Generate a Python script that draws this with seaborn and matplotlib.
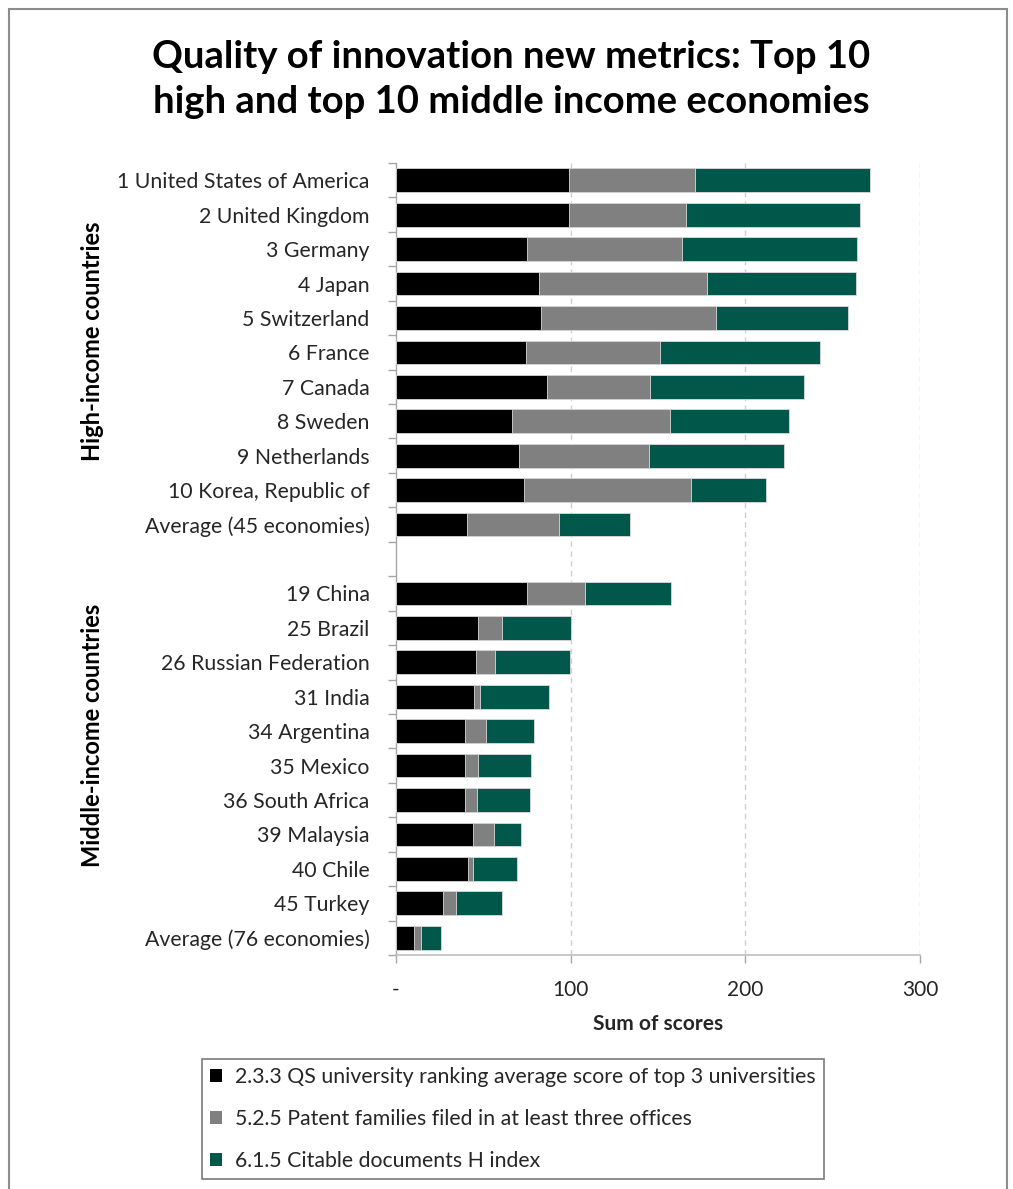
import numpy as np
import pandas as pd
import matplotlib
matplotlib.use("Agg")
import matplotlib.pyplot as plt
from matplotlib.patches import Patch, Rectangle
import seaborn as sns

# ---------------- data ----------------
labels = [
    "1 United States of America", "2 United Kingdom", "3 Germany", "4 Japan",
    "5 Switzerland", "6 France", "7 Canada", "8 Sweden", "9 Netherlands",
    "10 Korea, Republic of", "Average (45 economies)", " ",
    "19 China", "25 Brazil", "26 Russian Federation", "31 India", "34 Argentina",
    "35 Mexico", "36 South Africa", "39 Malaysia", "40 Chile", "45 Turkey",
    "Average (76 economies)",
]
qs_universities = [99.1, 99.1, 74.8, 81.7, 83.0, 74.3, 86.3, 66.6, 70.3, 73.5, 40.8, np.nan,
                   74.8, 46.8, 46.0, 44.9, 39.7, 39.7, 39.7, 44.1, 41.1, 27.1, 10.5]
patent_families = [72.0, 66.8, 89.2, 96.4, 100.0, 76.9, 59.2, 90.5, 74.6, 95.6, 52.6, np.nan,
                   33.3, 14.1, 10.9, 3.0, 11.7, 7.5, 6.9, 12.2, 3.0, 7.4, 3.6]
citable_h_index = [100.0, 100.0, 100.0, 85.4, 76.0, 91.8, 88.0, 68.0, 77.1, 42.8, 40.6, np.nan,
                   49.6, 39.3, 42.8, 39.5, 27.6, 30.1, 30.0, 15.3, 25.0, 26.2, 11.5]
series_names = [
    "2.3.3 QS university ranking average score of top 3 universities",
    "5.2.5 Patent families filed in at least three offices",
    "6.1.5 Citable documents H index",
]
x_ticks = [0, 100, 200, 300]
x_tick_labels = ["-", "100", "200", "300"]

colors = ["#000000", "#808080", "#02574B"]

# ---------------- figure ----------------
sns.set_theme(style="white")
plt.rcParams["font.family"] = ["Lato", "DejaVu Sans"]

W, H = 1013, 1189
fig = plt.figure(figsize=(W / 100, H / 100), dpi=100)
ax = fig.add_axes([396 / W, 1 - 955 / H, (920 - 396) / W, (955 - 163) / H])

df = pd.DataFrame({
    "label": labels,
    "s1": qs_universities,
    "s2": patent_families,
    "s3": citable_h_index,
})
df["c1"] = df["s1"]
df["c2"] = df["s1"] + df["s2"]
df["c3"] = df["s1"] + df["s2"] + df["s3"]

for col, colr in [("c3", colors[2]), ("c2", colors[1]), ("c1", colors[0])]:
    sns.barplot(data=df, x=col, y="label", order=labels, orient="h",
                color=colr, saturation=1, width=0.69, ax=ax,
                edgecolor="#d9d9d9", linewidth=0.6, zorder=3)

ax.set_xlim(0, 300)
ax.set_ylim(len(labels) - 0.5, -0.5)
ax.set_xticks(x_ticks)
ax.set_xticklabels(x_tick_labels, fontsize=15, color="#262626")
ax.set_yticks(range(len(labels)))
ax.set_yticklabels(labels, fontsize=15.3, color="#262626")
ax.tick_params(axis="y", which="major", length=0, pad=19)
ax.set_yticks(np.arange(-0.5, len(labels), 1.0), minor=True)
ax.tick_params(axis="y", which="minor", length=6, color="#a6a6a6", width=1, left=True)
ax.tick_params(axis="x", which="major", length=6, color="#a6a6a6", width=1, pad=12, bottom=True)
ax.set_xlabel("Sum of scores", fontsize=15, fontweight="bold", labelpad=10)
ax.set_ylabel("")

ax.grid(False)
for xv in [100, 200, 300]:
    ax.axvline(xv, color="#d0d0d0", linestyle=(0, (4, 3)), linewidth=1, zorder=1)
for s in ["top", "right"]:
    ax.spines[s].set_visible(False)
ax.spines["left"].set_color("#a6a6a6")
ax.spines["bottom"].set_color("#bfbfbf")
ax.spines["left"].set_linewidth(1)
ax.spines["bottom"].set_linewidth(1.2)

# title
fig.text(511 / W, 1 - 57 / H, "Quality of innovation new metrics: Top 10",
         ha="center", va="center", fontsize=27.5, fontweight="bold", color="black")
fig.text(511 / W, 1 - 102 / H, "high and top 10 middle income economies",
         ha="center", va="center", fontsize=27.5, fontweight="bold", color="black")

# group labels
fig.text(92 / W, 1 - 341 / H, "High-income countries", rotation=90,
         ha="center", va="center", fontsize=17, fontweight="bold", color="black")
fig.text(92 / W, 1 - 735 / H, "Middle-income countries", rotation=90,
         ha="center", va="center", fontsize=17, fontweight="bold", color="black")

# legend
handles = [Patch(facecolor=c, edgecolor="none") for c in colors]
leg = fig.legend(handles, series_names, loc="center",
                 bbox_to_anchor=(513 / W, 1 - 1119 / H), frameon=True,
                 fancybox=False, fontsize=15.3, handlelength=0.55, handleheight=0.55,
                 handletextpad=0.6, labelspacing=1.02, borderpad=0.4,
                 borderaxespad=0, labelcolor="#262626")
leg.get_frame().set_edgecolor("#595959")
leg.get_frame().set_linewidth(1.2)

# outer border
fig.add_artist(Rectangle((9 / W, -0.01), (1007 - 9) / W, 1 - 9 / H + 0.01,
                         transform=fig.transFigure, fill=False,
                         edgecolor="#8c8c8c", linewidth=1.5))

fig.savefig("out.png", dpi=100)
